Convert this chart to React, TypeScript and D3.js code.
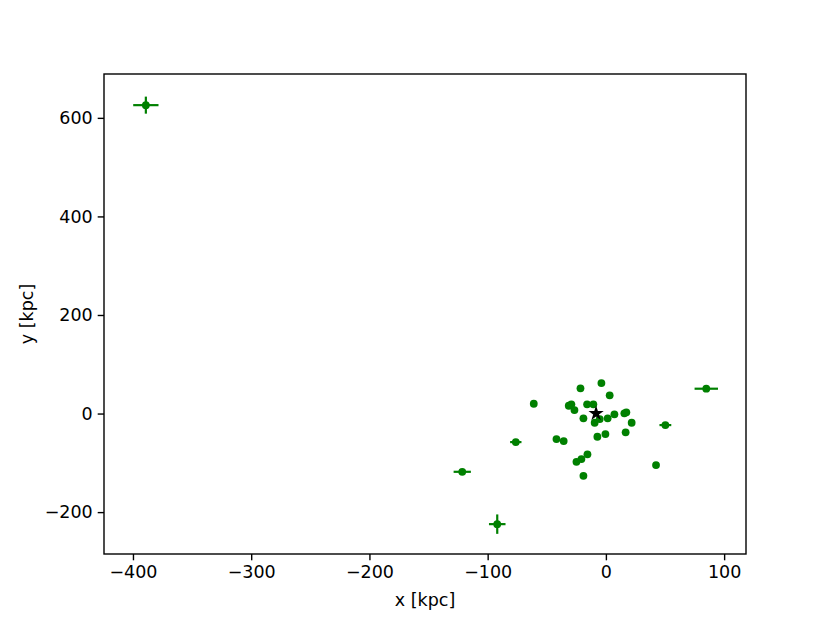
import React, { useEffect, useRef } from "react";
import * as d3 from "d3";

// galactocentric positions of the satellites (kpc)
const xs = [-21.5, -3.8, 3.2, -61, -31.4, -29.2, -26.6, -15.9, -10.6, -19, -9.5, -5.2, 1.5, 7.2, 15.6, 17.3, 21.8, 16.7, 50.3, -76.2, -41.8, -35.7, -7.2, -0.4, -15.6, -20.7, -24.9, -19, 42.4, -121.5, -91.9, 84.9, -389.1];
const ys = [51.2, 61.9, 37, 19.9, 15.8, 18.7, 7.1, 18.7, 18.7, -9.7, -18.7, -11.2, -9.7, -1.6, 0.4, 2.4, -18.7, -38.2, -23.4, -57.9, -51.8, -55.8, -47.1, -41.6, -82.8, -92.4, -97.9, -126.3, -104.6, -118.2, -224.4, 50.4, 625.8];
const xerr = [0.3, 0.3, 0.3, 1, 0.5, 0.5, 0.5, 0.3, 0.3, 0.3, 0.3, 0.3, 0.3, 0.3, 0.3, 0.3, 0.3, 0.5, 5, 4.8, 1, 1, 0.5, 0.5, 1, 1, 1, 1, 1.5, 7.3, 7, 9.9, 10.7];
const yerr = [0.5, 0.5, 0.5, 0.5, 0.5, 0.5, 0.5, 0.3, 0.3, 0.3, 0.3, 0.3, 0.3, 0.3, 0.3, 0.3, 0.3, 0.5, 0.5, 1, 1, 1, 1, 1, 1, 1, 1, 1.5, 1.5, 1.5, 19.7, 1, 17.3];
const sun = { x: -8.3, y: 0 };

const xTicks = [-400, -300, -200, -100, 0, 100];
const yTicks = [-200, 0, 200, 400, 600];

export default function App() {
  const ref = useRef<SVGSVGElement>(null);

  useEffect(() => {
    const W = 830, H = 623;
    const margin = { top: 74, right: 84, bottom: 69, left: 104 };
    const w = W - margin.left - margin.right;
    const h = H - margin.top - margin.bottom;
    const font = "DejaVu Sans, sans-serif";
    const fs = 17.5;

    const svg = d3.select(ref.current).attr("width", W).attr("height", H);
    svg.selectAll("*").remove();
    svg.append("rect").attr("width", W).attr("height", H).attr("fill", "white");

    const g = svg.append("g").attr("transform", `translate(${margin.left},${margin.top})`);

    const x = d3.scaleLinear().domain([-424.5, 118.5]).range([0, w]);
    const y = d3.scaleLinear().domain([-285, 689]).range([h, 0]);

    const data = xs.map((v, i) => ({ x: v, y: ys[i], xe: xerr[i], ye: yerr[i] }));

    // error bars first, dots on top
    const eb = g.append("g").attr("stroke", "green").attr("stroke-width", 2.2);
    eb.selectAll(".xe").data(data).join("line")
      .attr("x1", d => x(d.x - d.xe)).attr("x2", d => x(d.x + d.xe))
      .attr("y1", d => y(d.y)).attr("y2", d => y(d.y));
    eb.selectAll(".ye").data(data).join("line")
      .attr("x1", d => x(d.x)).attr("x2", d => x(d.x))
      .attr("y1", d => y(d.y - d.ye)).attr("y2", d => y(d.y + d.ye));

    g.append("g").selectAll("circle").data(data).join("circle")
      .attr("cx", d => x(d.x)).attr("cy", d => y(d.y))
      .attr("r", 3.9).attr("fill", "green");

    g.append("path")
      .attr("d", d3.symbol().type(d3.symbolStar).size(72)())
      .attr("transform", `translate(${x(sun.x)},${y(sun.y)})`)
      .attr("fill", "black");

    // axes
    const fmt = (d: any) => d3.format("d")(d as number).replace("-", "\u2212");
    const xa = g.append("g").attr("transform", `translate(0,${h})`)
      .call(d3.axisBottom(x).tickValues(xTicks).tickSize(6.3).tickPadding(5).tickFormat(fmt));
    const ya = g.append("g")
      .call(d3.axisLeft(y).tickValues(yTicks).tickSize(6.3).tickPadding(5).tickFormat(fmt));
    [xa, ya].forEach(a => {
      a.select(".domain").remove();
      a.selectAll("line").attr("stroke", "black").attr("stroke-width", 1.4);
      a.selectAll("text").attr("font-family", font).attr("font-size", fs).attr("fill", "black");
    });

    g.append("rect").attr("width", w).attr("height", h)
      .attr("fill", "none").attr("stroke", "black").attr("stroke-width", 1.4);

    svg.append("text").attr("x", margin.left + w / 2).attr("y", 606)
      .attr("text-anchor", "middle").attr("font-family", font).attr("font-size", fs)
      .text("x [kpc]");
    svg.append("text").attr("transform", `translate(33,${margin.top + h / 2}) rotate(-90)`)
      .attr("text-anchor", "middle").attr("font-family", font).attr("font-size", fs)
      .text("y [kpc]");
  }, []);

  return (
    <div style={{ position: "absolute", left: 0, top: 0 }}>
      <svg ref={ref} style={{ display: "block" }} />
    </div>
  );
}
